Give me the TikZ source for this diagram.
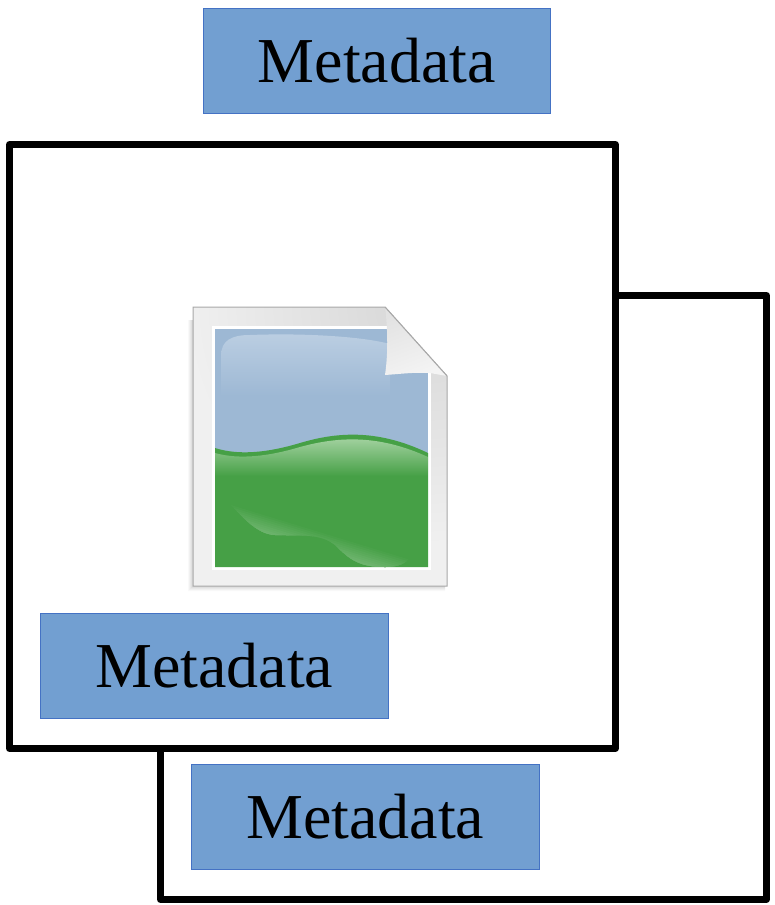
\documentclass[tikz,border=0pt]{standalone}
\usepackage{fontspec}
\setmainfont{Liberation Serif}
\definecolor{boxfill}{HTML}{729FD1}
\definecolor{boxline}{HTML}{4472C4}
\definecolor{sky}{HTML}{9DB8D4}
\definecolor{skylight}{HTML}{BBCEE2}
\definecolor{grass}{HTML}{46A046}
\definecolor{grasslight}{HTML}{A9D5A6}
\definecolor{sheetlight}{HTML}{F0F0F0}
\definecolor{sheetdark}{HTML}{D6D6D6}
\definecolor{sheetline}{HTML}{A8A8A8}
\definecolor{foldlight}{HTML}{F4F4F4}
\definecolor{folddark}{HTML}{E2E2E2}
\pgfdeclareradialshading{sheetshade}{\pgfpointorigin}{color(0bp)=(sheetdark); color(25bp)=(sheetlight); color(50bp)=(sheetlight)}
\tikzset{
  x=1pt,y=-1pt,
  frame/.style={draw=black,line width=6.8pt,line join=round,fill=white,anchor=north west,inner sep=0pt,outer sep=0pt},
  metabox/.style={draw=boxline,line width=0.8pt,fill=boxfill,anchor=north west,inner sep=0pt,outer sep=0pt,
    minimum width=347.5pt,minimum height=105pt,font=\fontsize{64}{70}\selectfont,text=black},
}
\begin{document}
\begin{tikzpicture}
\useasboundingbox (0,0) rectangle (774,905);
\fill[white] (0,0) rectangle (774,905);
% frames
\node[frame,minimum width=606pt,minimum height=604pt] (backframe) at (160.5,295.5) {};
\node[metabox] (metaback) at (191.5,764.5) {Metadata};
\node[frame,minimum width=606pt,minimum height=604pt] (frontframe) at (9.5,144.5) {};
\node[metabox] (metatop) at (203,8.5) {Metadata};
\node[metabox] (metafront) at (40.5,613) {Metadata};
% soft shadow of the sheet
\foreach \d/\o in {5/.025,4/.03,3/.03,2/.035,1/.04}{
  \fill[black,opacity=\o] (193-\d,320) rectangle (193,586+\d) (193,586) rectangle (445,586+\d);
}
% sheet
\begin{scope}
  \clip (193,307) -- (385,307) -- (447,376) -- (447,586) -- (193,586) -- cycle;
  \fill[sheetlight] (190,300) rectangle (450,590);
  \shade[shading=sheetshade] (425,305) circle (240);
  % white border
  \fill[white] (212,326) rectangle (431,570);
  % sky
  \fill[sky] (215,329) rectangle (428,567);
  % sky glare
  \shade[top color=skylight,bottom color=sky,draw=none]
    (221,396) -- (221,356) .. controls (221,340) and (232,335) .. (250,335)
    .. controls (300,333) and (360,336) .. (390,344) -- (390,396) -- cycle;
\end{scope}
\draw[sheetline,line width=1pt] (193,307) -- (385,307) -- (447,376) -- (447,586) -- (193,586) -- cycle;
% hill
\begin{scope}
  \clip (215,329) rectangle (428,567);
  \fill[grass] (215,448) .. controls (240,456) and (270,452) .. (300,443)
    .. controls (340,431) and (380,430) .. (428,453) -- (428,567) -- (215,567) -- cycle;
  \shade[top color=grasslight,bottom color=grass]
    (215,453) .. controls (240,460) and (270,456) .. (300,447)
    .. controls (340,436) and (380,435) .. (428,457) -- (428,476) -- (215,476) -- cycle;
\end{scope}
% hill glare
\begin{scope}
  \clip (228,502) .. controls (245,520) and (258,534) .. (275,535)
  .. controls (300,536) and (320,533) .. (335,545)
  .. controls (350,560) and (360,567) .. (385,567)
  .. controls (398,567) and (405,564) .. (410,558) -- cycle;
  \begin{scope}[shift={(228,502)},rotate=-17]
    \foreach \i in {1,...,14}{
      \pgfmathsetmacro{\pct}{100-2.4*\i}
      \fill[grass!\pct!white] (-10,2*\i) rectangle (215,40);
    }
  \end{scope}
\end{scope}
% folded corner
\shade[left color=folddark,right color=foldlight,shading angle=20,draw=none]
  (385,307) -- (447,376) -- (430,373) .. controls (415,372) and (400,374) .. (385,375)
  .. controls (388,355) and (388,330) .. (385,307) -- cycle;
\draw[sheetline,line width=1pt] (385,307) -- (447,376);
\end{tikzpicture}
\end{document}
